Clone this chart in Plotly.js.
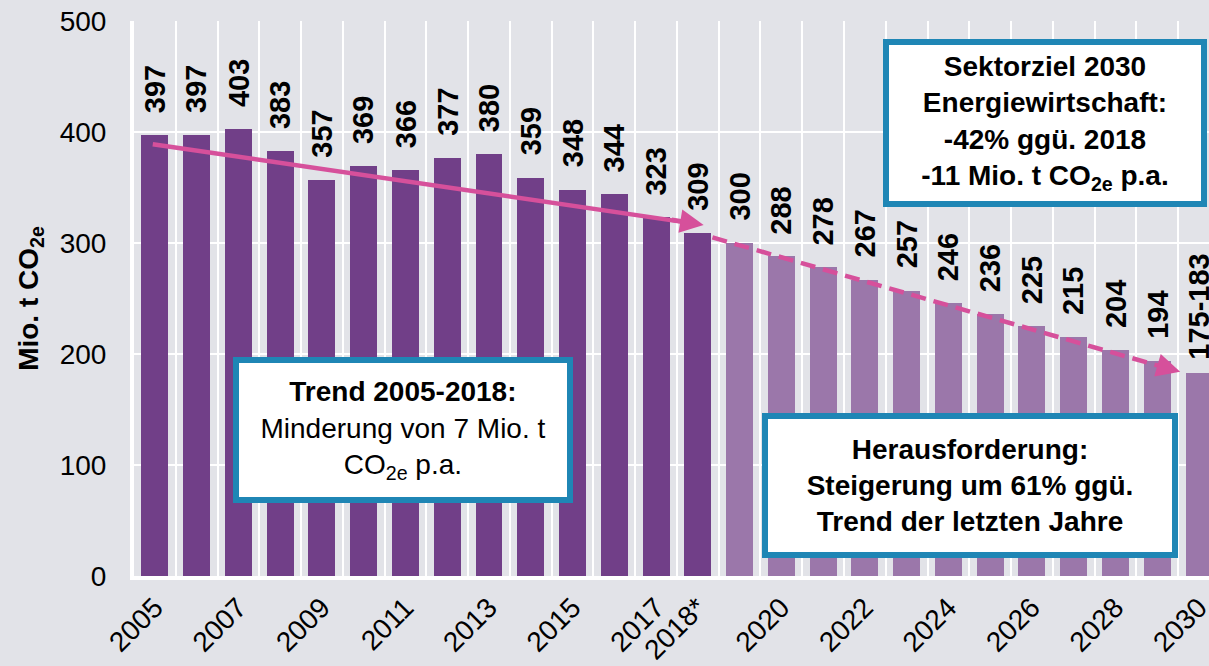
<!DOCTYPE html>
<html>
<head>
<meta charset="utf-8">
<script src="https://cdn.plot.ly/plotly-3.0.1.min.js"></script>
<style>html,body{margin:0;padding:0;background:#e2e3e8;}#chart{width:1209px;height:666px;}</style>
</head>
<body>
<div id="chart"></div>
<script>
// ---- data ----
var categories = ['2005','2006','2007','2008','2009','2010','2011','2012','2013','2014','2015','2016','2017','2018*',
                  '2019','2020','2021','2022','2023','2024','2025','2026','2027','2028','2029','2030'];
var values = [397,397,403,383,357,369,366,377,380,359,348,344,323,309,
              300,288,278,267,257,246,236,225,215,204,194,183];
var valueLabels = ['397','397','403','383','357','369','366','377','380','359','348','344','323','309',
                   '300','288','278','267','257','246','236','225','215','204','194','175-183'];
var labelBase = [397,397,403,383,357,369,366,377,380,359,348,344,323,309,
                 300,288,278,267,257,246,236,225,215,204,194,175];
var seriesKind = ['Ist','Ist','Ist','Ist','Ist','Ist','Ist','Ist','Ist','Ist','Ist','Ist','Ist','Ist',
                  'Ziel','Ziel','Ziel','Ziel','Ziel','Ziel','Ziel','Ziel','Ziel','Ziel','Ziel','Ziel'];
var tickLabels = ['2005','2007','2009','2011','2013','2015','2017','2018*','2020','2022','2024','2026','2028','2030'];

// trend arrows (x in category index units, y in Mio. t)
var trendX = [-0.05, 13.0];
var trendY = [389, 317];
var trendTip = [13.14, 316.2];
var targetX = [13.35, 24.25];
var targetY = [305, 187];
var targetTip = [24.55, 184];

// ---- styles ----
var FONT = 'Liberation Sans, Arial, sans-serif';
var colIst = '#713f88', colZiel = '#9b77aa';
var pink = '#d6509b', boxBlue = '#1f86b5', bg = '#e2e3e8';

var xIdx = categories.map(function(c, i){ return i; });
var barColors = seriesKind.map(function(k){ return k === 'Ist' ? colIst : colZiel; });
var tickvals = tickLabels.map(function(t){ return categories.indexOf(t); });
var boundaries = [];
for (var i = 0; i < categories.length; i++) boundaries.push(i + 0.5);

var traces = [
  {type:'bar', x:xIdx, y:values, width:0.645, marker:{color:barColors, line:{width:0}},
   hoverinfo:'skip', showlegend:false},
  {type:'scatter', mode:'lines', x:trendX, y:trendY, line:{color:pink, width:4.5},
   hoverinfo:'skip', showlegend:false},
  {type:'scatter', mode:'lines', x:targetX, y:targetY, line:{color:pink, width:4.5, dash:'15px,8px'},
   hoverinfo:'skip', showlegend:false}
];

var annotations = [];
for (var j = 0; j < categories.length; j++) {
  annotations.push({x:j, y:labelBase[j], xref:'x', yref:'y', text:'<b>'+valueLabels[j]+'</b>',
    textangle:-90, showarrow:false, xanchor:'center', yanchor:'bottom', yshift:20,
    font:{family:FONT, size:29, color:'#000'}});
}
// arrow heads
annotations.push({x:trendTip[0], y:trendTip[1], ax:trendTip[0]-0.8, ay:trendTip[1]+5, axref:'x', ayref:'y', xref:'x', yref:'y',
  showarrow:true, arrowhead:2, arrowsize:1.05, arrowwidth:4.5, arrowcolor:pink, text:''});
annotations.push({x:targetTip[0], y:targetTip[1], ax:targetTip[0]-0.5, ay:targetTip[1]+5.4, axref:'x', ayref:'y', xref:'x', yref:'y',
  showarrow:true, arrowhead:2, arrowsize:1.05, arrowwidth:4.5, arrowcolor:pink, text:''});

function box(text, cx, cy, w, h) {
  return {xref:'paper', yref:'paper', x:cx, y:cy, xanchor:'center', yanchor:'middle', showarrow:false,
    text:text, align:'center', bgcolor:'#ffffff', bordercolor:boxBlue, borderwidth:6, borderpad:0,
    width:w, height:h, font:{family:FONT, size:28, color:'#000'}};
}
annotations.push(box('<b>Trend 2005-2018:</b><br>Minderung von 7 Mio. t<br>CO<sub>2e</sub> p.a.', 0.2498, 0.263, 328, 134));
annotations.push(box('<b>Sektorziel 2030<br>Energiewirtschaft:<br>-42% ggü. 2018<br>-11 Mio. t CO<sub>2e</sub> p.a.</b>', 0.8474, 0.8162, 312, 156));
annotations.push(box('<b>Herausforderung:<br>Steigerung um 61% ggü.<br>Trend der letzten Jahre</b>', 0.7777, 0.163, 404, 133));

var layout = {
  width:1209, height:666,
  margin:{l:134, r:0, t:21, b:90, pad:0},
  paper_bgcolor:bg, plot_bgcolor:bg,
  font:{family:FONT, color:'#000'},
  showlegend:false,
  bargap:0,
  xaxis:{range:[-0.5, 25.24], tickmode:'array', tickvals:tickvals, ticktext:tickLabels, tickangle:-45,
    tickfont:{family:FONT, size:28, color:'#000'}, showgrid:false, zeroline:false, ticklabeloverflow:'allow',
    showline:true, linecolor:'#ffffff', linewidth:4, ticks:'', ticklabelstandoff:0,
    minor:{tickvals:boundaries, showgrid:true, gridcolor:'#ffffff', gridwidth:2, ticks:''}},
  yaxis:{range:[0,500], tickmode:'linear', tick0:0, dtick:100, tickfont:{family:FONT, size:28, color:'#000'},
    showgrid:true, gridcolor:'#ffffff', gridwidth:2, zeroline:false,
    showline:true, linecolor:'#ffffff', linewidth:4, ticks:'', ticklabelstandoff:18,
    title:{text:'<b>Mio. t CO<sub>2e</sub></b>', font:{family:FONT, size:28, color:'#000'}, standoff:14}},
  annotations:annotations
};

Plotly.newPlot('chart', traces, layout, {staticPlot:true, displayModeBar:false});
</script>
</body>
</html>
